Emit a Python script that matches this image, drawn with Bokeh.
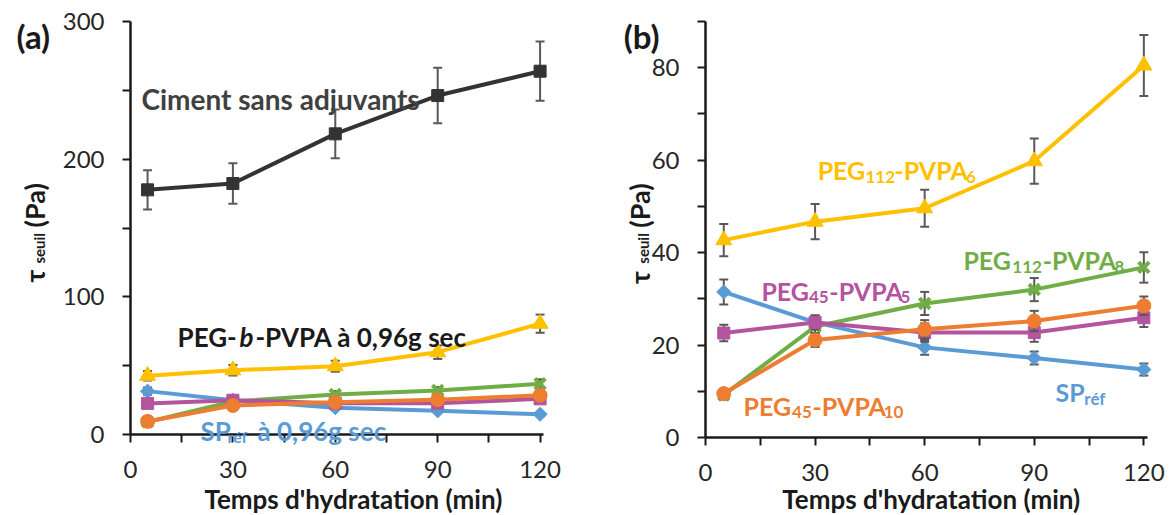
import math
from bokeh.plotting import figure
from bokeh.layouts import row
from bokeh.models import Range1d, FixedTicker, CustomJSTickFormatter, Label
from bokeh.embed import file_html
from bokeh.resources import INLINE

# ---------------- data ----------------
time_min = [5, 30, 60, 90, 120]

ciment = [177.7, 182.3, 218.4, 246.2, 263.9]
ciment_err = [14.3, 14.7, 17.7, 20.2, 21.5]

sp_ref = [31.5, 24.9, 19.5, 17.2, 14.7]
sp_ref_err = [2.7, 1.5, 1.6, 1.4, 1.3]

peg112_pvpa8 = [9.2, 24.0, 29.0, 32.0, 36.8]
peg112_pvpa8_err = [1.0, 1.5, 2.5, 2.5, 3.3]

peg112_pvpa6 = [42.7, 46.7, 49.6, 59.8, 80.5]
peg112_pvpa6_err = [3.5, 3.8, 4.0, 4.9, 6.6]

peg45_pvpa5 = [22.6, 24.9, 22.7, 22.7, 25.9]
peg45_pvpa5_err = [1.8, 1.5, 2.0, 2.0, 2.0]

peg45_pvpa10 = [9.5, 21.1, 23.4, 25.2, 28.5]
peg45_pvpa10_err = [1.0, 1.5, 2.0, 2.2, 2.0]

x_ticks = [0, 15, 30, 45, 60, 75, 90, 105, 120]
ya_ticks = [0, 50, 100, 150, 200, 250, 300]
yb_ticks = [0, 10, 20, 30, 40, 50, 60, 70, 80, 90]

FONT = "Lato"
ERR_COL = "#595959"
AX_COL = "#1a1a1a"

colored = [
    (sp_ref, sp_ref_err, "#5b9bd5", "square", 10, math.pi / 4, 1),
    (peg112_pvpa8, peg112_pvpa8_err, "#70ad47", "x", 15, 0, 4),
    (peg112_pvpa6, peg112_pvpa6_err, "#ffc000", "triangle", 16, 0, 1),
    (peg45_pvpa5, peg45_pvpa5_err, "#b4549f", "square", 12, 0, 1),
    (peg45_pvpa10, peg45_pvpa10_err, "#ed7d31", "circle", 14, 0, 1),
]


def make_fig(width, height, ax_x, ax_y, xppu, yppu, y_top, yticks, label_every):
    """Frame fills the canvas; axes are pinned at x=0 / y=0 (fixed_location)."""
    p = figure(width=width, height=height,
               x_range=Range1d(-ax_x / xppu, (width - ax_x) / xppu),
               y_range=Range1d(-(height - ax_y) / yppu, ax_y / yppu),
               min_border=0, min_border_left=0, min_border_right=0,
               min_border_top=0, min_border_bottom=0,
               output_backend="svg", toolbar_location=None,
               background_fill_color="white", border_fill_color="white")
    p.outline_line_color = None
    p.xgrid.visible = False
    p.ygrid.visible = False
    for ax in (p.xaxis[0], p.yaxis[0]):
        ax.fixed_location = 0
        ax.axis_line_width = 2.5
        ax.axis_line_color = AX_COL
        ax.major_tick_line_width = 2
        ax.major_tick_line_color = AX_COL
        ax.major_tick_in = 0
        ax.major_tick_out = 8
        ax.minor_tick_line_color = None
        ax.major_label_text_font = FONT
        ax.major_label_text_font_size = "24px"
        ax.major_label_text_color = "#262626"
    p.xaxis.bounds = (0, 121)
    p.yaxis.bounds = (0, y_top)
    p.xaxis.ticker = FixedTicker(ticks=x_ticks)
    p.xaxis.formatter = CustomJSTickFormatter(
        code="return (tick % 30 === 0) ? String(tick) : '';")
    p.xaxis.major_label_standoff = 18
    p.yaxis.ticker = FixedTicker(ticks=yticks)
    p.yaxis.formatter = CustomJSTickFormatter(
        code="return (tick %% %d === 0) ? String(tick) : '';" % label_every)
    p.yaxis.major_label_standoff = 18
    return p


def add_series(p, ys, errs, color, marker, size, angle, mlw, cap=9):
    lo = [y - e for y, e in zip(ys, errs)]
    hi = [y + e for y, e in zip(ys, errs)]
    p.segment(x0=time_min, y0=lo, x1=time_min, y1=hi,
              line_color=ERR_COL, line_width=2)
    p.scatter(x=time_min + time_min, y=lo + hi, marker="dash", size=cap,
              line_color=ERR_COL, line_width=2)
    p.line(x=time_min, y=ys, line_color=color, line_width=4)
    p.scatter(x=time_min, y=ys, marker=marker, size=size, angle=angle,
              fill_color=color, line_color=color, line_width=mlw)


def lab(p, x, y, text, size, color, style="bold", align="left",
        baseline="alphabetic", angle=0.0):
    p.add_layout(Label(x=x, y=y, text=text, text_font=FONT,
                       text_font_size=size, text_color=color,
                       text_font_style=style, text_align=align,
                       text_baseline=baseline, angle=angle))


def multi(p, parts, color):
    for x, y, text, size in parts:
        lab(p, x, y, text, size, color)


# ---------------- panel (a) ----------------
pa = make_fig(590, 515, 130, 434, 413 / 121, 413 / 300, 300, ya_ticks, 100)
add_series(pa, ciment, ciment_err, "#333333", "square", 12, 0, 1)
for s in colored:
    add_series(pa, *s)

lab(pa, -33.4, 289.8, "(a)", "33px", AX_COL)
lab(pa, -28.1, 110.5, "τ", "27px", AX_COL, angle=math.pi / 2)
lab(pa, -26.8, 124.2, "seuil", "15px", AX_COL, angle=math.pi / 2)
lab(pa, -28.1, 150.4, "(Pa)", "27px", AX_COL, angle=math.pi / 2)
lab(pa, 65.3, -47.2, "Temps d'hydratation (min)", "26px", AX_COL, align="center")

lab(pa, 3.2, 244.0, "Ciment sans adjuvants", "28px", "#404040")
lab(pa, 13.8, 70.7, "PEG-", "26px", AX_COL)
lab(pa, 31.9, 70.7, "b", "26px", AX_COL, style="bold italic")
lab(pa, 36.6, 70.7, "-PVPA à 0,96g sec", "26px", AX_COL)
multi(pa, [(20.5, 2.9, "SP", "26px"), (28.4, -1.5, "réf", "16px"),
           (37.2, 2.9, "à 0,96g sec", "26px")], "#5b9bd5")

# ---------------- panel (b) ----------------
pb = make_fig(584, 515, 115, 437, 442 / 121, 416 / 90, 90, yb_ticks, 20)
for s in colored:
    add_series(pb, *s)

lab(pb, -22.4, 86.8, "(b)", "33px", AX_COL)
lab(pb, -18.1, 33.2, "τ", "27px", AX_COL, angle=math.pi / 2)
lab(pb, -17.0, 37.6, "seuil", "15px", AX_COL, angle=math.pi / 2)
lab(pb, -18.1, 45.4, "(Pa)", "27px", AX_COL, angle=math.pi / 2)
lab(pb, 61.8, -13.41, "Temps d'hydratation (min)", "26px", AX_COL, align="center")

multi(pb, [(30.7, 57.8, "PEG", "25px"), (43.8, 56.3, "112", "17px"),
           (51.7, 57.8, "-PVPA", "25px"), (71.3, 56.3, "6", "17px")], "#ffc000")
multi(pb, [(70.6, 38.3, "PEG", "25px"), (84.0, 36.8, "112", "17px"),
           (92.3, 38.3, "-PVPA", "25px"), (112.0, 36.8, "8", "17px")], "#70ad47")
multi(pb, [(15.3, 31.8, "PEG", "25px"), (28.3, 30.4, "45", "17px"),
           (33.9, 31.8, "-PVPA", "25px"), (53.4, 30.4, "5", "17px")], "#b4549f")
multi(pb, [(10.4, 6.9, "PEG", "25px"), (23.7, 5.5, "45", "17px"),
           (29.3, 6.9, "-PVPA", "25px"), (48.8, 5.5, "10", "17px")], "#ed7d31")
multi(pb, [(95.8, 9.8, "SP", "25px"), (103.7, 8.4, "réf", "17px")], "#5b9bd5")

layout = row(pa, pb)
open("out.html", "w").write(file_html(layout, INLINE))
